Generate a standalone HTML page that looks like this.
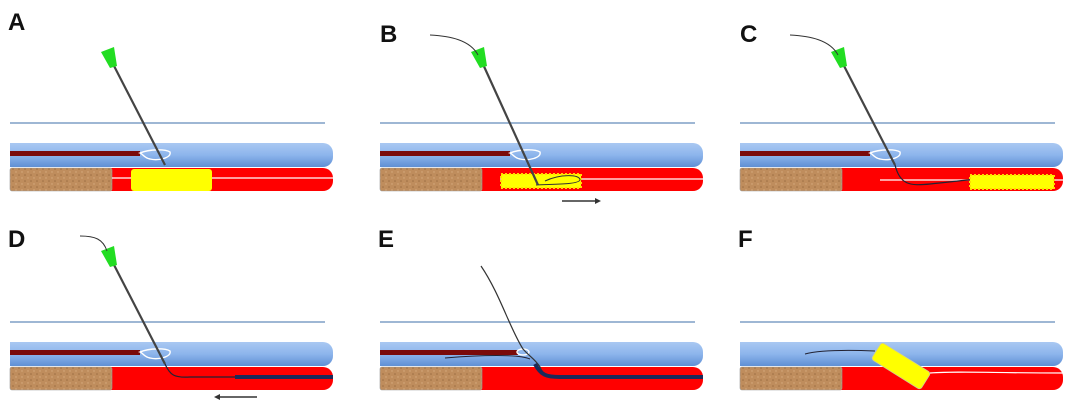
<!DOCTYPE html>
<html><head><meta charset="utf-8"><style>
html,body{margin:0;padding:0;background:#fff;width:1080px;height:409px;overflow:hidden}
svg{display:block}
.lbl{font-family:"Liberation Sans",sans-serif;font-weight:bold;font-size:24px;fill:#111}
</style></head><body>
<svg width="1080" height="409" viewBox="0 0 1080 409" xmlns="http://www.w3.org/2000/svg">
<defs>
<linearGradient id="bl" x1="0" y1="0" x2="0" y2="1">
<stop offset="0" stop-color="#a9c8f2"/><stop offset="0.5" stop-color="#8db5ec"/><stop offset="1" stop-color="#5f8fd4"/></linearGradient>
<pattern id="cork" width="6" height="6" patternUnits="userSpaceOnUse">
<rect width="6" height="6" fill="#bf8d5d"/><circle cx="1" cy="1" r="0.8" fill="#9b6d42"/><circle cx="4" cy="4" r="0.7" fill="#d8ad80"/></pattern>
<g id="base">
<line x1="10" y1="123" x2="325" y2="123" stroke="#7f9fc6" stroke-width="1.5"/>
<rect x="10" y="143" width="323" height="24" rx="10" fill="url(#bl)"/>
<rect x="10" y="143" width="10" height="24" fill="url(#bl)"/>
<rect x="10" y="168" width="323" height="23" rx="10" fill="#ff0000"/>
<rect x="10" y="168" width="102" height="23" rx="2" fill="url(#cork)" stroke="#999" stroke-width="0.6"/>
</g>
<g id="bar">
<rect x="10" y="151" width="130" height="5" fill="#7a0a0a"/>
<path d="M140,153 C150,149 165,149 170,152 C172,158 158,161 150,159 C144,158 143,154 140,153Z" fill="none" stroke="#fff" stroke-width="1.4"/>
</g>
</defs>

<!-- A -->
<text class="lbl" x="8" y="30">A</text>
<use href="#base"/>
<line x1="112" y1="178" x2="333" y2="178" stroke="#fff" stroke-width="1.2"/>
<rect x="131" y="169" width="81" height="22" rx="3" fill="#ffff00"/>
<use href="#bar"/>
<line x1="112" y1="62" x2="165" y2="165" stroke="#444" stroke-width="2.2"/>
<polygon points="101,52 114,47 117,66 110,68" fill="#22dd22"/>

<!-- B -->
<g transform="translate(370,0)">
<text class="lbl" x="10" y="42">B</text>
<use href="#base"/>
<line x1="130" y1="179" x2="333" y2="179" stroke="#fff" stroke-width="1.2"/>
<rect x="131" y="174" width="80" height="14" fill="#ffff00" stroke="#ffdd00" stroke-width="2" stroke-dasharray="2 2"/>
<path d="M166,185 C178,184 208,185 210,180 C210,174 190,174 175,181" fill="none" stroke="#333" stroke-width="1"/>
<use href="#bar"/>
<line x1="112" y1="62" x2="168" y2="185" stroke="#444" stroke-width="2.2"/>
<polygon points="101,52 114,47 117,66 110,68" fill="#22dd22"/>
<path d="M60,35 C80,36 100,40 108,55" fill="none" stroke="#333" stroke-width="1"/>
<line x1="192" y1="201" x2="228" y2="201" stroke="#333" stroke-width="1.5"/>
<polygon points="231,201 225,198 225,204" fill="#333"/>
</g>

<!-- C -->
<g transform="translate(730,0)">
<text class="lbl" x="10" y="42">C</text>
<use href="#base"/>
<line x1="150" y1="180" x2="333" y2="180" stroke="#fff" stroke-width="1.2"/>
<path d="M165,165 C170,185 180,186 200,184 C230,181 250,178 270,178" fill="none" stroke="#223" stroke-width="1.2"/>
<rect x="240" y="175" width="84" height="14" fill="#ffff00" stroke="#ffdd00" stroke-width="2" stroke-dasharray="2 2"/>
<use href="#bar"/>
<line x1="112" y1="62" x2="165" y2="165" stroke="#444" stroke-width="2.2"/>
<polygon points="101,52 114,47 117,66 110,68" fill="#22dd22"/>
<path d="M60,35 C80,36 100,40 108,55" fill="none" stroke="#333" stroke-width="1"/>
</g>

<!-- D -->
<text class="lbl" x="8" y="247">D</text>
<g transform="translate(0,199)">
<use href="#base"/>
<path d="M165,165 C170,176 174,179 190,178 L333,178" fill="none" stroke="#223" stroke-width="1.2"/>
<line x1="235" y1="178" x2="333" y2="178" stroke="#1a2a5a" stroke-width="4"/>
<use href="#bar"/>
<line x1="112" y1="62" x2="165" y2="165" stroke="#444" stroke-width="2.2"/>
<polygon points="101,52 114,47 117,66 110,68" fill="#22dd22"/>
<path d="M80,37 C95,37 103,40 107,52" fill="none" stroke="#333" stroke-width="1"/>
<line x1="218" y1="198" x2="257" y2="198" stroke="#333" stroke-width="1.5"/>
<polygon points="214,198 220,195 220,201" fill="#333"/>
</g>

<!-- E -->
<text class="lbl" x="378" y="247">E</text>
<g transform="translate(370,199)">
<use href="#base"/>
<rect x="10" y="151" width="138" height="5" fill="#7a0a0a"/>
<ellipse cx="153" cy="153" rx="6" ry="3" fill="none" stroke="#fff" stroke-width="1.4"/>
<path d="M75,159 C110,156 150,155 160,160" fill="none" stroke="#223" stroke-width="1"/>
<path d="M111,67 C130,95 140,130 153,150 C160,158 165,160 170,168 C173,176 178,178 190,178 L333,178" fill="none" stroke="#333" stroke-width="1.2"/>
<path d="M165,165 C171,176 176,178 190,178 L333,178" fill="none" stroke="#1a2a5a" stroke-width="4"/>
</g>

<!-- F -->
<text class="lbl" x="738" y="247">F</text>
<g transform="translate(730,199)">
<use href="#base"/>
<path d="M75,155 C90,151 120,151 145,152" fill="none" stroke="#223" stroke-width="1"/>
<path d="M200,174 C230,172 260,174 333,174" fill="none" stroke="#fff" stroke-width="1.2"/>
<rect x="142" y="157" width="58" height="20" rx="3" fill="#ffff00" stroke="#cc9" stroke-width="0.8" transform="rotate(32 171 167)"/>
</g>
</svg>
</body></html>
